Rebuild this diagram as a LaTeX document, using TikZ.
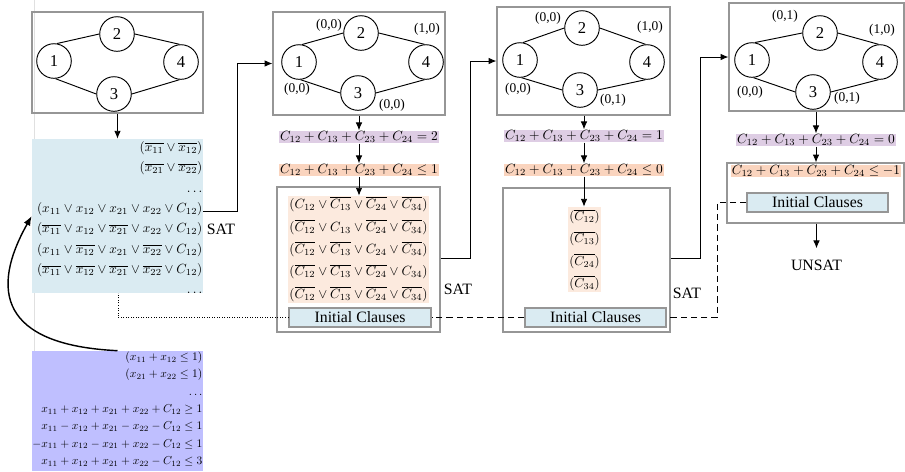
\documentclass[tikz,border=0pt]{standalone}
\usepackage{graphicx}
\usepackage[no-math]{fontspec}
\setmainfont{Liberation Serif}
\usetikzlibrary{arrows.meta}
\definecolor{cbox}{RGB}{218,235,242}
\definecolor{cpurp}{RGB}{222,205,228}
\definecolor{corng}{RGB}{250,212,190}
\definecolor{cpeach}{RGB}{252,234,222}
\definecolor{clav}{RGB}{191,191,255}
\definecolor{cgray}{RGB}{150,150,150}
\hfuzz=30pt \hbadness=10000
\newcommand\Fm[1]{\scalebox{0.85}{$#1$}}
\begin{document}
\begin{tikzpicture}[x=0.633pt,y=-0.633pt,
  sz/.style 2 args={minimum width=#1*0.633pt, minimum height=#2*0.633pt, inner sep=0pt},
  gbox/.style={draw=cgray, line width=0.7pt},
  vtx/.style={circle, draw, line width=0.6pt, minimum size=21.9pt, inner sep=0pt, font=\fontsize{10.5}{12}\selectfont},
  lbl/.style={font=\fontsize{8.5}{10}\selectfont, inner sep=0pt},
  fml/.style={font=\fontsize{10}{12}\selectfont, inner xsep=0.6pt, inner ysep=0pt, minimum height=8pt},
  arr/.style={-{Latex[length=5pt,width=4.2pt]}, line width=0.6pt},
  lnk/.style={line width=0.6pt},
  dashline/.style={lnk, dash pattern=on 4pt off 2.5pt},
  dotline/.style={lnk, dash pattern=on 0.6pt off 1pt},
  ic/.style={draw=cgray, fill=cbox, line width=0.7pt, font=\fontsize{10}{12}\selectfont},
  res/.style={font=\fontsize{10}{12}\selectfont, inner sep=0pt},
  edg/.style={line width=0.6pt},
  txt/.style={inner sep=0pt, font=\fontsize{10}{12}\selectfont},
]
\useasboundingbox (0,0) rectangle (905,471);
\draw[black!12, line width=0.5pt] (34,0) -- (34,471);

% ---------------- column 1
\node[gbox, sz={171}{101}] (g1) at (117.5,62.5) {};
\node[vtx] (a1) at (54,61) {1};
\node[vtx] (a2) at (117,34) {2};
\node[vtx] (a3) at (114,94) {3};
\node[vtx] (a4) at (181,62) {4};
\draw[edg] (a1.80) -- (a2.west) (a2.east) -- (a4.95) (a1.-85) -- (a3.west) (a3.east) -- (a4.-95);

\node[fill=cbox, sz={171}{154}] (bb) at (117.5,216) {};
\node[txt, anchor=east] (bbt) at ([xshift=-0.4pt,yshift=-1.6pt]bb.east) {\scalebox{0.84}{\def\arraystretch{1.28}\begin{tabular}{@{}r@{}}
$(\overline{x_{11}}\vee\overline{x_{12}})$\\
$(\overline{x_{21}}\vee\overline{x_{22}})$\\
$\ldots$\\
$(x_{11}\vee x_{12}\vee x_{21}\vee x_{22}\vee C_{12})$\\
$(\overline{x_{11}}\vee x_{12}\vee\overline{x_{21}}\vee x_{22}\vee C_{12})$\\
$(x_{11}\vee\overline{x_{12}}\vee x_{21}\vee\overline{x_{22}}\vee C_{12})$\\
$(\overline{x_{11}}\vee\overline{x_{12}}\vee\overline{x_{21}}\vee\overline{x_{22}}\vee C_{12})$\\
$\ldots$
\end{tabular}}};
\node[res] (s1) at (221,229) {SAT};

\node[fill=clav, sz={171}{120}] (lv) at (117.5,411) {};
\node[txt, anchor=east] (lvt) at ([xshift=-0.4pt,yshift=1.2pt]lv.east) {\scalebox{0.73}{\def\arraystretch{1.25}\begin{tabular}{@{}r@{}}
$(x_{11}+x_{12}\leq 1)$\\
$(x_{21}+x_{22}\leq 1)$\\
$\ldots$\\
$x_{11}+x_{12}+x_{21}+x_{22}+C_{12}\geq 1$\\
$x_{11}-x_{12}+x_{21}-x_{22}-C_{12}\leq 1$\\
$-x_{11}+x_{12}-x_{21}+x_{22}-C_{12}\leq 1$\\
$x_{11}+x_{12}+x_{21}+x_{22}-C_{12}\leq 3$
\end{tabular}}};

\draw[arr] (g1.south) -- (bb.north);
\draw[-{Latex[length=6pt,width=4.6pt]}, line width=0.9pt] (lv.north) .. controls (0,345) and (-10,290) .. (bb.west);

% ---------------- column 2
\node[gbox, sz={172}{103}] (g2) at (359,63.5) {};
\node[vtx] (b1) at (299,62) {1};
\node[vtx] (b2) at (361,33) {2};
\node[vtx] (b3) at (358,93) {3};
\node[vtx] (b4) at (426,62) {4};
\draw[edg] (b1.80) -- (b2.west) (b2.east) -- (b4.95) (b1.-85) -- (b3.west) (b3.east) -- (b4.-95);
\node[lbl] (lb2) at (329,25) {(0,0)};
\node[lbl] (lb4) at (427,29) {(1,0)};
\node[lbl] (lb1) at (297,89) {(0,0)};
\node[lbl] (lb3) at (392,105) {(0,0)};

\node[fml, fill=cpurp] (p2) at (359,137) {\Fm{C_{12}+C_{13}+C_{23}+C_{24}=2}};
\node[fml, fill=corng] (o2) at (359,170) {\Fm{C_{12}+C_{13}+C_{23}+C_{24}\leq 1}};
\node[gbox, sz={163}{145}] (x2) at (358.5,259.5) {};
\node[fill=cpeach, sz={141}{107}] (r2) at (358.5,249.5) {};
\node[txt] (r2t) at (358.5,249) {\scalebox{0.845}{\def\arraystretch{1.40}\begin{tabular}{@{}c@{}}
$(C_{12}\vee\overline{C_{13}}\vee\overline{C_{24}}\vee\overline{C_{34}})$\\
$(\overline{C_{12}}\vee C_{13}\vee\overline{C_{24}}\vee\overline{C_{34}})$\\
$(\overline{C_{12}}\vee\overline{C_{13}}\vee C_{24}\vee\overline{C_{34}})$\\
$(\overline{C_{12}}\vee\overline{C_{13}}\vee\overline{C_{24}}\vee C_{34})$\\
$(\overline{C_{12}}\vee\overline{C_{13}}\vee\overline{C_{24}}\vee\overline{C_{34}})$
\end{tabular}}};
\node[ic, sz={142}{19}] (ic2) at (360,317.5) {Initial Clauses};
\node[res] (s2) at (458,289) {SAT};

\coordinate (e1) at (237,211);
\draw[arr] (bb.east |- e1) -- (e1) |- (g2.west);
\draw[arr] (g2.south) -- (p2.north);
\draw[arr] (p2.south) -- (o2.north);
\draw[arr] (o2.south) -- (o2.south |- r2.north);

% ---------------- column 3
\node[gbox, sz={173}{108}] (g3) at (583.5,61) {};
\node[vtx] (c1) at (520,60) {1};
\node[vtx] (c2) at (582,28) {2};
\node[vtx] (c3) at (580,90) {3};
\node[vtx] (c4) at (647,62) {4};
\draw[edg] (c1.80) -- (c2.west) (c2.east) -- (c4.95) (c1.-85) -- (c3.west) (c3.east) -- (c4.-95);
\node[lbl] (lc2) at (548,18) {(0,0)};
\node[lbl] (lc4) at (650,27) {(1,0)};
\node[lbl] (lc1) at (518,89) {(0,0)};
\node[lbl] (lc3) at (613,100) {(0,1)};

\node[fml, fill=cpurp] (p3) at (584,136) {\Fm{C_{12}+C_{13}+C_{23}+C_{24}=1}};
\node[fml, fill=corng] (o3) at (584,170) {\Fm{C_{12}+C_{13}+C_{23}+C_{24}\leq 0}};
\node[gbox, sz={167}{144}] (x3) at (586.5,260) {};
\node[fill=cpeach, sz={33}{85}] (r3) at (584.5,249.5) {};
\node[txt] (r3t) at (584.5,249.5) {\scalebox{0.82}{\def\arraystretch{1.43}\begin{tabular}{@{}c@{}}
$(\overline{C_{12}})$\\
$(\overline{C_{13}})$\\
$(\overline{C_{24}})$\\
$(\overline{C_{34}})$
\end{tabular}}};
\node[ic, sz={141}{19}] (ic3) at (595.5,317.5) {Initial Clauses};
\node[res] (s3) at (687,293) {SAT};

\coordinate (e2) at (470,258);
\draw[arr] (x2.east |- e2) -- (e2) |- (g3.west);
\draw[arr] (g3.south -| p3) -- (p3.north);
\draw[arr] (p3.south) -- (o3.north);
\draw[arr] (o3.south) -- (o3.south |- r3.north);

% ---------------- column 4
\node[gbox, sz={175}{108}] (g4) at (816.5,57) {};
\node[vtx] (d1) at (752,60) {1};
\node[vtx] (d2) at (820,33) {2};
\node[vtx] (d3) at (813,92) {3};
\node[vtx] (d4) at (880,62) {4};
\draw[edg] (d1.80) -- (d2.west) (d2.east) -- (d4.95) (d1.-85) -- (d3.west) (d3.east) -- (d4.-95);
\node[lbl] (ld2) at (785,16) {(0,1)};
\node[lbl] (ld4) at (882,30) {(1,0)};
\node[lbl] (ld1) at (750,92) {(0,0)};
\node[lbl] (ld3) at (847,98) {(0,1)};

\node[fml, fill=cpurp] (p4) at (816,140) {\Fm{C_{12}+C_{13}+C_{23}+C_{24}=0}};
\node[gbox, sz={177}{60}] (x4) at (815.5,193) {};
\node[fml, fill=corng] (o4) at (816,171) {\Fm{C_{12}+C_{13}+C_{23}+C_{24}\leq -1}};
\node[ic, sz={141}{19}] (ic4) at (817.5,202.5) {Initial Clauses};
\node[res, inner ysep=7pt] (u4) at (816.5,265) {UNSAT};

\coordinate (e3) at (700,258);
\draw[arr] (x3.east |- e3) -- (e3) |- (g4.west);
\draw[arr] (g4.south -| p4) -- (p4.north);
\draw[arr] (p4.south) -- (p4.south |- x4.north);
\draw[arr] (u4.north |- x4.south) -- (u4.north);

% ---------------- links between initial clauses
\coordinate (k2) at (717,202.5);
\draw[dashline] (ic4.west) -- (k2) |- (ic3.east);
\draw[dashline] (ic3.west) -- (ic2.east);
\coordinate (k1) at (118,317.5);
\draw[dotline] (ic2.west) -- (k1) -- (k1 |- bb.south);
\end{tikzpicture}
\end{document}
